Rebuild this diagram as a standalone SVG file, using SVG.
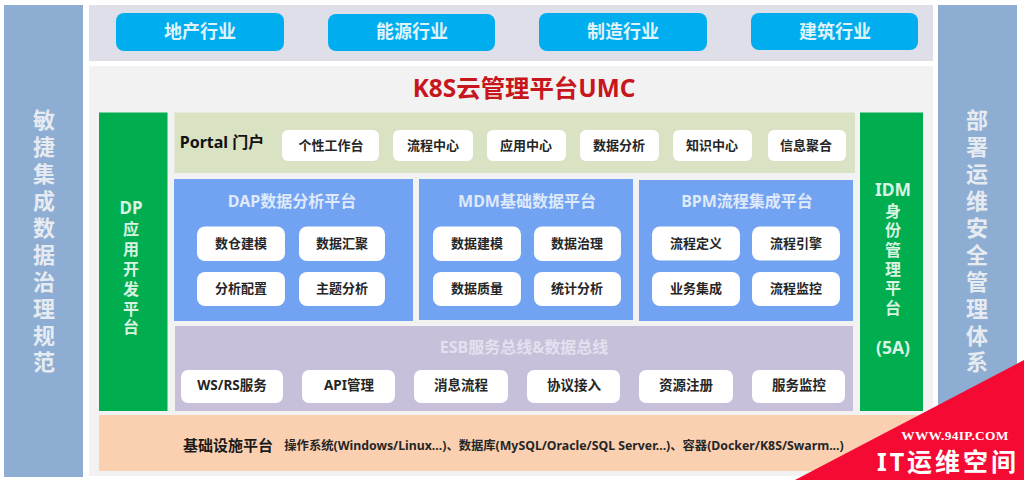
<svg xmlns="http://www.w3.org/2000/svg" width="1024" height="480" viewBox="0 0 1024 480">
<style>
text{font-family:"Noto Sans","Noto Sans CJK SC",sans-serif;font-weight:700;text-anchor:middle}
.side{fill:#8eadd3}
.sidet{fill:#e6ebf1;font-size:22px}
.ind{fill:#00aeef}
.indt{fill:#dff3fb;font-size:18px}
.green{fill:#00ad4f}
.greent{fill:#d8f3e2;font-size:16px}
.blue{fill:#72a3f2}
.bluet{fill:#dfe9fa;font-size:16px}
.chip{fill:#fff}
.chipt{fill:#262626;font-size:13px}
.chipw{fill:#262626;font-size:13.500px}
</style>
<rect width="1024" height="480" fill="#fff"/>
<g id="left-bar">
<rect class="side" x="4" y="5" width="79" height="472"/>
<text class="sidet"><tspan x="44" y="128">敏</tspan><tspan x="44" y="155">捷</tspan><tspan x="44" y="182">集</tspan><tspan x="44" y="209">成</tspan><tspan x="44" y="236">数</tspan><tspan x="44" y="263">据</tspan><tspan x="44" y="290">治</tspan><tspan x="44" y="317">理</tspan><tspan x="44" y="344">规</tspan><tspan x="44" y="370">范</tspan></text>
</g>
<g id="right-bar">
<rect class="side" x="938" y="5" width="79" height="472"/>
<text class="sidet"><tspan x="977" y="128">部</tspan><tspan x="977" y="155">署</tspan><tspan x="977" y="182">运</tspan><tspan x="977" y="209">维</tspan><tspan x="977" y="236">安</tspan><tspan x="977" y="263">全</tspan><tspan x="977" y="290">管</tspan><tspan x="977" y="317">理</tspan><tspan x="977" y="344">体</tspan><tspan x="977" y="370">系</tspan></text>
</g>
<g id="industries">
<rect x="89" y="5" width="844" height="56" fill="#dfdfe9"/>
<rect class="ind" x="116" y="13" width="168" height="38" rx="8"/><text class="indt" x="200" y="38">地产行业</text>
<rect class="ind" x="328" y="14" width="167" height="37" rx="8"/><text class="indt" x="412" y="38">能源行业</text>
<rect class="ind" x="539" y="13" width="168" height="38" rx="8"/><text class="indt" x="623" y="38">制造行业</text>
<rect class="ind" x="751" y="13" width="167" height="37" rx="8"/><text class="indt" x="835" y="38">建筑行业</text>
</g>
<g id="k8s-panel">
<rect x="89" y="66" width="844" height="410" fill="#f2f2f2"/>
<text x="524" y="97" fill="#c8161d" style="font-size:24.400px">K8S云管理平台UMC</text>
</g>
<g id="dp">
<rect class="green" x="99" y="112.500" width="68.500" height="298.500"/>
<text class="greent"><tspan x="131" y="214" style="font-size:17px">DP</tspan><tspan x="131" y="235">应</tspan><tspan x="131" y="255">用</tspan><tspan x="131" y="275">开</tspan><tspan x="131" y="295">发</tspan><tspan x="131" y="315">平</tspan><tspan x="131" y="333">台</tspan></text>
</g>
<g id="idm">
<rect class="green" x="860" y="112.500" width="63" height="298.500"/>
<text class="greent"><tspan x="893" y="196" style="font-size:17.500px">IDM</tspan><tspan x="893" y="217">身</tspan><tspan x="893" y="236">份</tspan><tspan x="893" y="256">管</tspan><tspan x="893" y="275">理</tspan><tspan x="893" y="294">平</tspan><tspan x="893" y="314">台</tspan><tspan x="893" y="354" style="font-size:17.500px">(5A)</tspan></text>
</g>
<g id="portal">
<rect x="174.500" y="112.500" width="680.500" height="60.500" fill="#d9e2c3"/>
<text x="222" y="148" fill="#111" style="font-size:16px">Portal 门户</text>
<g class="chipt">
<rect class="chip" x="282" y="130" width="97" height="31" rx="6"/><text x="331" y="150">个性工作台</text>
<rect class="chip" x="393" y="130" width="80" height="31" rx="6"/><text x="433" y="150">流程中心</text>
<rect class="chip" x="487" y="130" width="79" height="31" rx="6"/><text x="526" y="150">应用中心</text>
<rect class="chip" x="580" y="130" width="79" height="31" rx="6"/><text x="619" y="150">数据分析</text>
<rect class="chip" x="673" y="130" width="79" height="31" rx="6"/><text x="712" y="150">知识中心</text>
<rect class="chip" x="768" y="130" width="78" height="31" rx="6"/><text x="806" y="150">信息聚合</text>
</g>
</g>
<g id="dap">
<rect class="blue" x="174" y="179" width="239" height="142"/>
<text class="bluet" x="292" y="207">DAP数据分析平台</text>
<g class="chipt">
<rect class="chip" x="197" y="226.500" width="88" height="34.500" rx="8"/><text x="241" y="248">数仓建模</text>
<rect class="chip" x="299" y="226.500" width="86" height="34.500" rx="8"/><text x="342" y="248">数据汇聚</text>
<rect class="chip" x="197" y="272" width="88" height="34" rx="8"/><text x="241" y="293">分析配置</text>
<rect class="chip" x="299" y="272" width="86" height="34" rx="8"/><text x="342" y="293">主题分析</text>
</g>
</g>
<g id="mdm">
<rect class="blue" x="419" y="179" width="214" height="141"/>
<text class="bluet" x="527" y="207">MDM基础数据平台</text>
<g class="chipt">
<rect class="chip" x="433" y="226.500" width="88" height="34.500" rx="8"/><text x="477" y="248">数据建模</text>
<rect class="chip" x="534" y="226.500" width="87" height="34.500" rx="8"/><text x="577" y="248">数据治理</text>
<rect class="chip" x="433" y="272" width="88" height="34" rx="8"/><text x="477" y="293">数据质量</text>
<rect class="chip" x="534" y="272" width="87" height="34" rx="8"/><text x="577" y="293">统计分析</text>
</g>
</g>
<g id="bpm">
<rect class="blue" x="639" y="180" width="214" height="141"/>
<text class="bluet" x="747" y="207">BPM流程集成平台</text>
<g class="chipt">
<rect class="chip" x="652" y="226.500" width="88" height="34" rx="8"/><text x="696" y="248">流程定义</text>
<rect class="chip" x="752" y="226.500" width="88" height="34" rx="8"/><text x="796" y="248">流程引擎</text>
<rect class="chip" x="652" y="272" width="88" height="34" rx="8"/><text x="696" y="293">业务集成</text>
<rect class="chip" x="752" y="272" width="88" height="34" rx="8"/><text x="796" y="293">流程监控</text>
</g>
</g>
<g id="esb">
<rect x="175" y="326" width="678" height="85" fill="#c8bfdb"/>
<text x="524" y="353" fill="#e4e0ee" style="font-size:16px">ESB服务总线&amp;数据总线</text>
<g class="chipw">
<rect class="chip" x="181" y="370" width="102" height="33" rx="7"/><text x="232" y="390">WS/RS服务</text>
<rect class="chip" x="302" y="370" width="93" height="33" rx="7"/><text x="349" y="390">API管理</text>
<rect class="chip" x="414" y="370" width="94" height="33" rx="7"/><text x="461" y="390">消息流程</text>
<rect class="chip" x="527" y="370" width="93" height="33" rx="7"/><text x="574" y="390">协议接入</text>
<rect class="chip" x="639" y="370" width="94" height="33" rx="7"/><text x="686" y="390">资源注册</text>
<rect class="chip" x="752" y="370" width="93" height="33" rx="7"/><text x="799" y="390">服务监控</text>
</g>
</g>
<g id="infra">
<rect x="99" y="415" width="824" height="56" fill="#fbd0b1"/>
<text x="228" y="451" fill="#1a1a1a" style="font-size:15px">基础设施平台</text>
<text x="564" y="450" fill="#262626" style="font-size:12.300px">操作系统(Windows/Linux...)、数据库(MySQL/Oracle/SQL Server...)、容器(Docker/K8S/Swarm...)</text>
</g>
<g id="watermark">
<polygon points="1024,360 795,480 1024,480" fill="#f40a32"/>
<text x="955" y="440" fill="#fff" style="font-family:'Liberation Serif',serif;font-size:13.400px;letter-spacing:.3px">WWW.94IP.COM</text>
<text x="948" y="471" fill="#fff" style="font-size:25px;letter-spacing:3px">IT运维空间</text>
</g>
</svg>
